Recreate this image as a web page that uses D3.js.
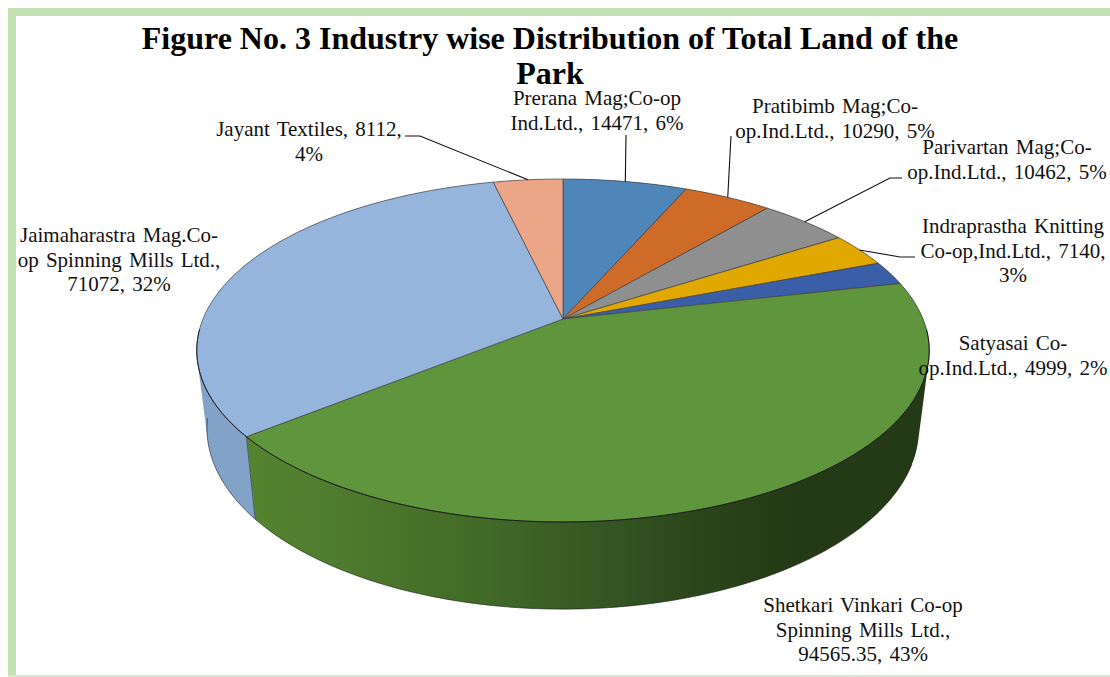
<!DOCTYPE html>
<html>
<head>
<meta charset="utf-8">
<script src="https://cdn.jsdelivr.net/npm/d3@7"></script>
<style>
    html, body { margin: 0; padding: 0; background: #fff; }
    svg { display: block; }
    text { font-family: "Liberation Serif", serif; fill: #111; }
</style>
</head>
<body>
<script>
// Data
const companies = ["Prerana Mag;Co-op Ind.Ltd.", "Pratibimb Mag;Co-op.Ind.Ltd.", "Parivartan Mag;Co-op.Ind.Ltd.",
    "Indraprastha Knitting Co-op,Ind.Ltd.", "Satyasai Co-op.Ind.Ltd.", "Shetkari Vinkari Co-op Spinning Mills Ltd.",
    "Jaimaharastra Mag.Co-op Spinning Mills Ltd.", "Jayant Textiles"]
const land = [14471, 10290, 10462, 7140, 4999, 94565.35, 71072, 8112]
const labelLines = [
    ["Prerana Mag;Co-op", "Ind.Ltd., 14471, 6%"],
    ["Pratibimb Mag;Co-", "op.Ind.Ltd., 10290, 5%"],
    ["Parivartan Mag;Co-", "op.Ind.Ltd., 10462, 5%"],
    ["Indraprastha Knitting", "Co-op,Ind.Ltd., 7140,", "3%"],
    ["Satyasai Co-", "op.Ind.Ltd., 4999, 2%"],
    ["Shetkari Vinkari Co-op", "Spinning Mills Ltd.,", "94565.35, 43%"],
    ["Jaimaharastra Mag.Co-", "op Spinning Mills Ltd.,", "71072, 32%"],
    ["Jayant Textiles, 8112,", "4%"]
]
const titleLines = ["Figure No. 3 Industry wise Distribution of Total Land of the", "Park"]

// Styles and layout
const sliceColors = ["#4e86ba", "#cf6b28", "#8f8f8f", "#e0a800", "#3a5fa8", "#5f963d", "#95b5dc", "#eba587"]
const wallColors = ["#3e6a94", "#a45520", "#727272", "#b28600", "#2e4c86", "url(#greenWall)", "#83a2c8", "#bb8369"]
const labelX = [597, 835, 1007, 1013, 1013, 863, 119, 309]
const labelY = [105, 113, 154, 233, 350, 612, 242, 136]
// Leader elbows and ends, null where the label has no leader
const leaders = [
    [[626, 135]],
    [[731, 136]],
    [[890, 178], [902, 178]],
    [[900, 257], [915, 257]],
    null,
    null,
    null,
    [[420, 136], [405, 136]]
]

const width = 1110
const height = 677
const svg = d3.select("body").append("svg")
    .attr("width", width)
    .attr("height", height)

// Frame
svg.append("rect").attr("x", 8).attr("y", 8).attr("width", width - 8).attr("height", 8).attr("fill", "#c5e0b4")
svg.append("rect").attr("x", 8).attr("y", 8).attr("width", 8).attr("height", height - 8).attr("fill", "#c5e0b4")
svg.append("rect").attr("x", 8).attr("y", 675).attr("width", width - 8).attr("height", 2).attr("fill", "#d6e9ca")

// Perspective view of the disc: far edge is squeezed, near edge is stretched
const cx = 563
const persp = 0.1837
const topRim = { a: 360, b: 165.7, cy: 319 }
const lowRim = { a: 350, b: 174.8, cy: 395 }
const project = (rim, angle, r = 1) => {
    const x = Math.sin(angle) * r
    const y = Math.cos(angle) * r
    const w = 1 + persp * y
    return [cx + rim.a * x / w, rim.cy - rim.b * y / w]
}
const angleSteps = (a0, a1, step) => {
    const n = Math.max(2, Math.ceil((a1 - a0) / step))
    return d3.range(n + 1).map(i => a0 + (a1 - a0) * i / n)
}

const arcs = d3.pie().sort(null)(land)
const line = d3.line()

// Wall gradient across the big slice
const grad = svg.append("defs").append("linearGradient")
    .attr("id", "greenWall")
    .attr("gradientUnits", "userSpaceOnUse")
    .attr("x1", 247).attr("x2", 930).attr("y1", 0).attr("y2", 0)
const stops = [[0, "#55842f"], [0.15, "#4d7a2d"], [0.34, "#426a27"], [0.52, "#355723"], [0.66, "#2b451a"], [0.8, "#243a17"], [1, "#243a17"]]
grad.selectAll("stop").data(stops).enter().append("stop")
    .attr("offset", d => d[0])
    .attr("stop-color", d => d[1])

// One narrow wall quad, always wound the same way so overlaps never cancel
const wallQuad = (a0, a1) => {
    const quad = [project(topRim, a0), project(topRim, a1), project(lowRim, a1), project(lowRim, a0)]
    if (d3.polygonArea(quad) < 0) quad.reverse()
    return line(quad) + "Z"
}

// Outer walls: one path per slice, so the outline stays tangent
svg.append("g").selectAll("path")
    .data(arcs).enter().append("path")
    .attr("d", d => d3.pairs(angleSteps(d.startAngle, d.endAngle, 0.02))
        .map(([a0, a1]) => wallQuad(a0, a1))
        .join(""))
    .attr("fill", (d, i) => wallColors[i])

// Lower rim and the seam between the two visible walls
const seam = arcs[5].endAngle
svg.append("path")
    .attr("d", line(angleSteps(Math.PI * 0.62, seam + 0.55, 0.02).map(a => project(lowRim, a))))
    .attr("fill", "none")
    .attr("stroke", "#1c1c1c")
    .attr("stroke-width", 0.8)
    .attr("stroke-opacity", 0.75)
svg.append("path")
    .attr("d", line([project(topRim, seam), project(lowRim, seam)]))
    .attr("stroke", "#4a5a6a")
    .attr("stroke-width", 1)

// Top face
svg.append("g").selectAll("path")
    .data(arcs).enter().append("path")
    .attr("d", d => line([project(topRim, 0, 0), ...angleSteps(d.startAngle, d.endAngle, 0.01).map(a => project(topRim, a))]) + "Z")
    .attr("fill", (d, i) => sliceColors[i])
    .attr("stroke", "#444")
    .attr("stroke-width", 0.7)
    .attr("stroke-linejoin", "round")

// Darker front edge of the top face
svg.append("path")
    .attr("d", line(angleSteps(Math.PI * 0.52, Math.PI * 1.48, 0.01).map(a => project(topRim, a))))
    .attr("fill", "none")
    .attr("stroke", "#111")
    .attr("stroke-width", 0.9)

// Leader lines start on the rim at each slice's middle
svg.append("g").selectAll("path")
    .data(arcs.map((d, i) => ({ arc: d, pts: leaders[i] })).filter(d => d.pts)).enter().append("path")
    .attr("d", d => line([project(topRim, (d.arc.startAngle + d.arc.endAngle) / 2), ...d.pts]))
    .attr("fill", "none")
    .attr("stroke", "#111")
    .attr("stroke-width", 1.1)

// Data labels
const labels = svg.append("g").selectAll("text")
    .data(labelLines).enter().append("text")
    .attr("text-anchor", "middle")
    .style("font-size", "21px")
    .style("word-spacing", "2px")
    .attr("aria-label", (d, i) => companies[i])
labels.selectAll("tspan")
    .data((d, i) => d.map((s, j) => ({ s, x: labelX[i], y: labelY[i] + j * 24.5 })))
    .enter().append("tspan")
    .attr("x", d => d.x)
    .attr("y", d => d.y)
    .text(d => d.s)

// Title
svg.append("g").selectAll("text")
    .data(titleLines).enter().append("text")
    .attr("x", 550)
    .attr("y", (d, i) => 49 + i * 35)
    .attr("text-anchor", "middle")
    .style("font-size", "32px")
    .style("font-weight", "bold")
    .style("fill", "#000")
    .text(d => d)
</script>
</body>
</html>
